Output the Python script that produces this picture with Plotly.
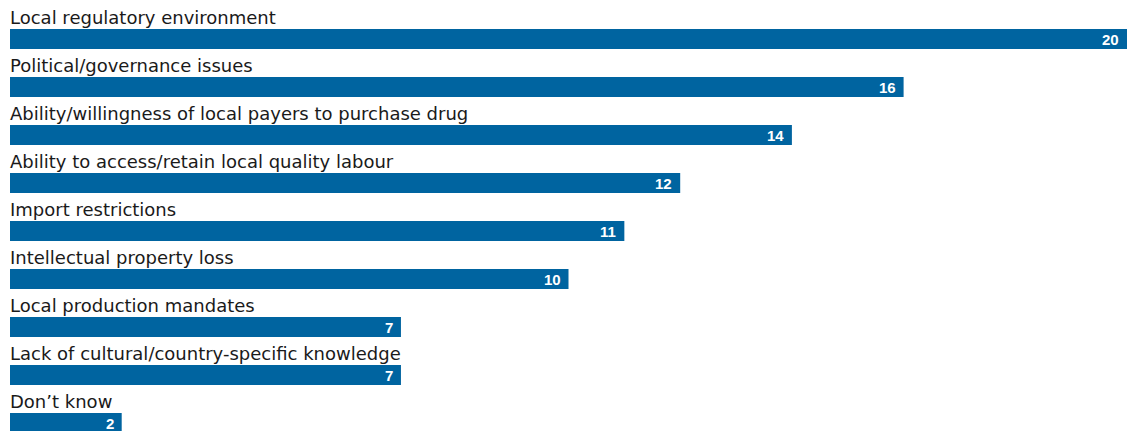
import plotly.graph_objects as go

categories = [
    "Local regulatory environment",
    "Political/governance issues",
    "Ability/willingness of local payers to purchase drug",
    "Ability to access/retain local quality labour",
    "Import restrictions",
    "Intellectual property loss",
    "Local production mandates",
    "Lack of cultural/country-specific knowledge",
    "Don\u2019t know",
]
values = [20, 16, 14, 12, 11, 10, 7, 7, 2]

bar_color = "#0064A0"
positions = list(range(len(categories)))

fig = go.Figure()
fig.add_trace(go.Bar(
    x=values,
    y=positions,
    orientation="h",
    marker=dict(color=bar_color, line=dict(width=0)),
    width=0.42,
    hoverinfo="skip",
))

for i, (c, v) in enumerate(zip(categories, values)):
    fig.add_annotation(
        x=0, y=i - 0.45, xref="x", yref="y",
        text=c, showarrow=False, xanchor="left", yanchor="middle",
        xshift=-2,
        font=dict(family="DejaVu Sans", size=18, color="#1a1a1a"),
    )
    fig.add_annotation(
        x=v, y=i, xref="x", yref="y",
        text=str(v), showarrow=False, xanchor="right", yanchor="middle",
        xshift=-6,
        font=dict(family="Liberation Sans", size=15, color="white", weight="bold"),
    )

fig.update_layout(
    width=1130, height=423,
    margin=dict(l=2, r=11, t=0, b=0, pad=0, autoexpand=False),
    plot_bgcolor="white", paper_bgcolor="white",
    showlegend=False,
    xaxis=dict(range=[0, 20], visible=False, fixedrange=True),
    yaxis=dict(range=[(431 - 39) / 48, (8 - 39) / 48], visible=False, fixedrange=True),
)

fig.write_html("out.html")
